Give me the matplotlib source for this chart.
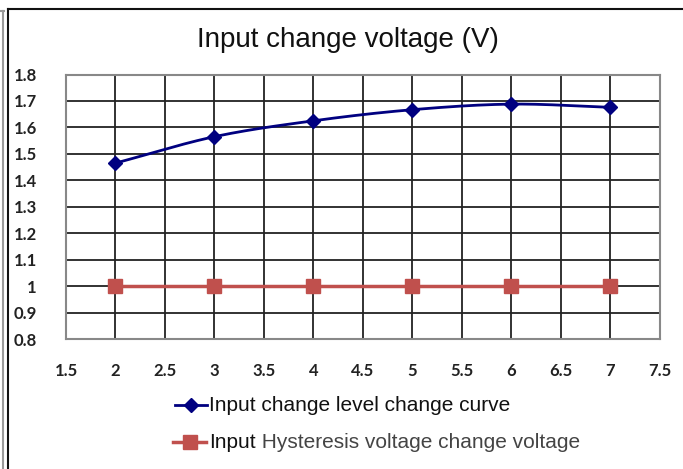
import numpy as np
import matplotlib
matplotlib.use("Agg")
import matplotlib.pyplot as plt
from matplotlib.lines import Line2D

title = "Input change voltage (V)"
x_vals = [2, 3, 4, 5, 6, 7]
level_curve = [1.465, 1.565, 1.625, 1.667, 1.688, 1.676]
hysteresis = [1.0, 1.0, 1.0, 1.0, 1.0, 1.0]
series1_label = "Input change level change curve"
series2_label_a = "Input"
series2_label_b = " Hysteresis voltage change voltage"
x_ticks = [1.5, 2, 2.5, 3, 3.5, 4, 4.5, 5, 5.5, 6, 6.5, 7, 7.5]
x_tick_labels = ["1.5", "2", "2.5", "3", "3.5", "4", "4.5", "5", "5.5", "6", "6.5", "7", "7.5"]
y_ticks = [0.8, 0.9, 1.0, 1.1, 1.2, 1.3, 1.4, 1.5, 1.6, 1.7, 1.8]
y_tick_labels = ["0.8", "0.9", "1", "1.1", "1.2", "1.3", "1.4", "1.5", "1.6", "1.7", "1.8"]

def catmull(xs, ys, n=30):
    xs = np.asarray(xs, float); ys = np.asarray(ys, float)
    P = np.column_stack([xs, ys])
    P = np.vstack([2*P[0]-P[1], P, 2*P[-1]-P[-2]])
    out = []
    for i in range(1, len(P)-2):
        p0, p1, p2, p3 = P[i-1], P[i], P[i+1], P[i+2]
        t = np.linspace(0, 1, n)[:, None]
        pts = 0.5*((2*p1) + (-p0+p2)*t + (2*p0-5*p1+4*p2-p3)*t**2 + (-p0+3*p1-3*p2+p3)*t**3)
        out.append(pts)
    out = np.vstack(out)
    return out[:, 0], out[:, 1]

W, H = 683, 469
fig = plt.figure(figsize=(W/100, H/100), dpi=100)
ax = fig.add_axes([66/W, 1-339/H, (660-66)/W, (339-74.5)/H])

sx, sy = catmull(x_vals, level_curve)
ax.plot(sx, sy, color="#000080", lw=2.0, zorder=3)
ax.plot(x_vals, level_curve, ls="none", marker="D", ms=7, color="#000080", zorder=4)
ax.plot(x_vals, hysteresis, color="#c0504d", lw=2.5, marker="s", ms=10, zorder=3)

ax.set_xlim(1.5, 7.5)
ax.set_ylim(0.8, 1.8)
ax.set_xticks(x_ticks)
ax.set_xticklabels(x_tick_labels)
ax.set_yticks(y_ticks)
ax.set_yticklabels(y_tick_labels)
ax.tick_params(length=0, labelsize=12, colors="#222222")
ax.tick_params(axis="y", pad=21)
ax.tick_params(axis="x", pad=17)
for lab in ax.get_xticklabels() + ax.get_yticklabels():
    lab.set_fontfamily("Lato")
    lab.set_fontweight("bold")
ax.grid(True, color="#222222", lw=1.3)
ax.set_axisbelow(True)
for s in ax.spines.values():
    s.set_color("#888888")
    s.set_linewidth(1.5)

fig.text(348/W, 1-40/H, title, ha="center", va="center", fontsize=20,
         family="Liberation Sans", color="#111111")

# legend drawn manually
fig.add_artist(Line2D([175/W, 207/W], [1-405/H, 1-405/H], color="#000080", lw=2,
                      transform=fig.transFigure))
fig.add_artist(Line2D([191/W], [1-405/H], color="#000080", marker="D", ms=7,
                      ls="none", transform=fig.transFigure))
fig.text(209/W, 1-405/H, series1_label, ha="left", va="center", fontsize=15,
         family="Liberation Sans", color="#111111")
fig.add_artist(Line2D([173/W, 206/W], [1-442/H, 1-442/H], color="#c0504d", lw=2.5,
                      transform=fig.transFigure))
fig.add_artist(Line2D([190/W], [1-442/H], color="#c0504d", marker="s", ms=10,
                      ls="none", transform=fig.transFigure))
t1 = fig.text(209/W, 1-442/H, series2_label_a, ha="left", va="center", fontsize=15,
              family="Liberation Sans", color="#111111")
fig.canvas.draw()
bb = t1.get_window_extent()
fig.text(bb.x1/W, 1-442/H, series2_label_b, ha="left", va="center", fontsize=15,
         family="Liberation Sans", color="#444444")

# outer frame
fig.add_artist(Line2D([8/W, 8/W], [0, 1-9/H], color="#111111", lw=1.5, transform=fig.transFigure))
fig.add_artist(Line2D([8/W, 1], [1-9/H, 1-9/H], color="#111111", lw=1.5, transform=fig.transFigure))
fig.add_artist(Line2D([3/W, 3/W], [0, 1-11/H], color="#999999", lw=1.5, transform=fig.transFigure))
fig.add_artist(Line2D([0, 4/W], [1-11/H, 1-11/H], color="#999999", lw=1.5, transform=fig.transFigure))

fig.savefig("out.png", dpi=100)
